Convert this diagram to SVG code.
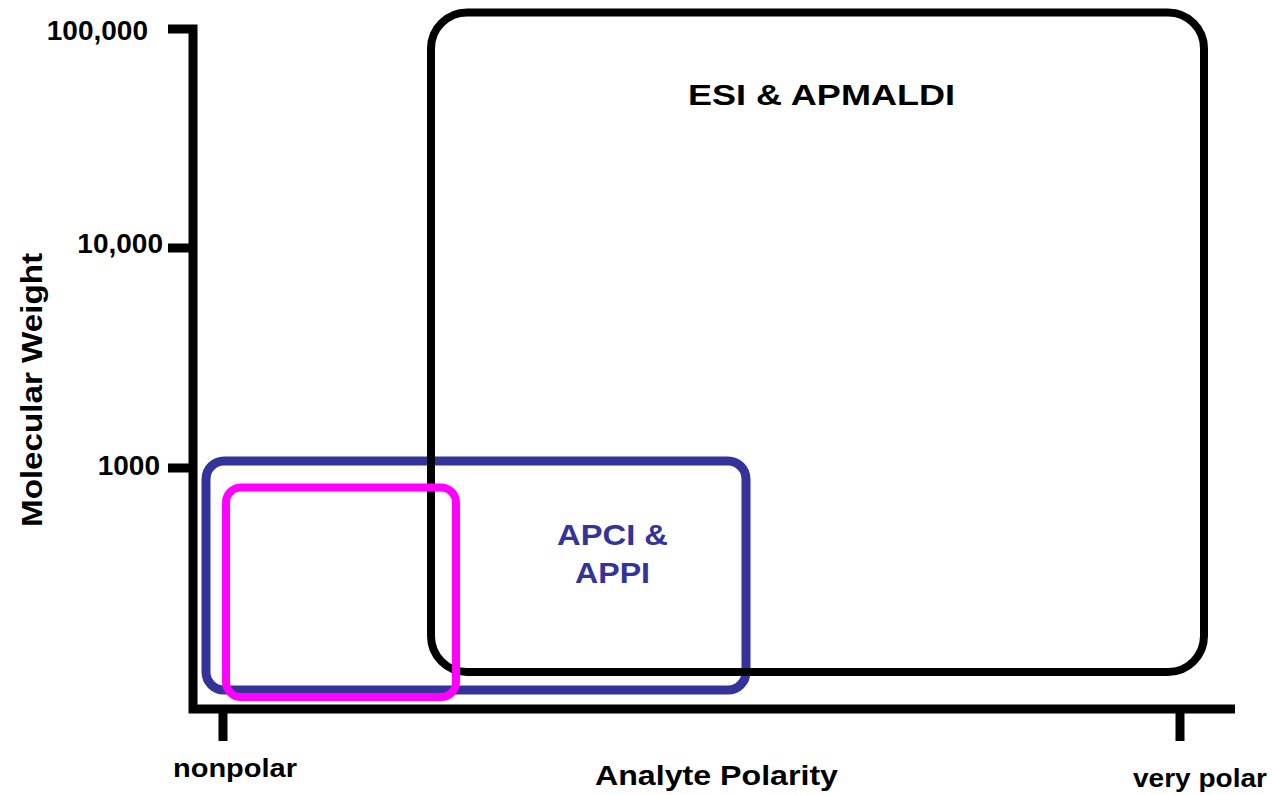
<svg xmlns="http://www.w3.org/2000/svg" width="1276" height="795" viewBox="0 0 1276 795">
<style>
.t{font-family:"Liberation Sans",Arial,sans-serif;font-weight:bold;fill:#000}
.ax{fill:none;stroke:#000;stroke-width:9;stroke-linejoin:miter;stroke-linecap:butt}
.box{fill:none}
</style>
<rect width="1276" height="795" fill="#fff"/>
<g id="axes">
<path class="ax" d="M168,29 H193 V709 H1235"/>
<path class="ax" d="M168,248 H193 M168,468 H193 M223,709 V741 M1180,709 V741"/>
<text class="t" x="148" y="40" font-size="28" text-anchor="end">100,000</text>
<text class="t" x="163" y="253" font-size="28" text-anchor="end">10,000</text>
<text class="t" x="160" y="475" font-size="28" text-anchor="end">1000</text>
<text class="t" x="173" y="777" font-size="26" textLength="124" lengthAdjust="spacingAndGlyphs">nonpolar</text>
<text class="t" x="1133" y="787" font-size="26" textLength="134" lengthAdjust="spacingAndGlyphs">very polar</text>
<text class="t" x="595" y="785" font-size="28" textLength="243" lengthAdjust="spacingAndGlyphs">Analyte Polarity</text>
<text class="t" transform="translate(42,527) rotate(-90)" x="0" y="0" font-size="30" textLength="274" lengthAdjust="spacingAndGlyphs">Molecular Weight</text>
</g>
<g id="apci">
<rect class="box" x="206" y="461" width="540" height="229" rx="18" stroke="#333399" stroke-width="9"/>
<text class="t" x="557" y="545" font-size="30" fill="#333399" style="fill:#333399" textLength="111" lengthAdjust="spacingAndGlyphs">APCI &amp;</text>
<text class="t" x="575" y="583" font-size="30" style="fill:#333399" textLength="75" lengthAdjust="spacingAndGlyphs">APPI</text>
</g>
<g id="esi">
<rect class="box" x="431" y="12.5" width="773" height="659.5" rx="36" stroke="#000" stroke-width="8"/>
<text class="t" x="688" y="105" font-size="30" textLength="267" lengthAdjust="spacingAndGlyphs">ESI &amp; APMALDI</text>
</g>
<g id="magenta">
<rect class="box" x="226" y="487.5" width="230" height="209.5" rx="15" stroke="#ff00ff" stroke-width="8"/>
</g>
<g id="connectors"></g>
</svg>
